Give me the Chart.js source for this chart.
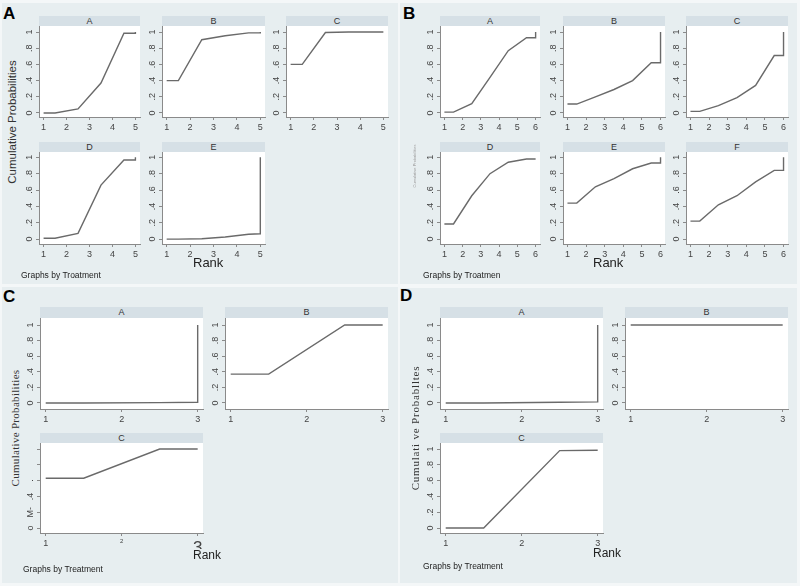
<!DOCTYPE html>
<html><head><meta charset="utf-8">
<script src="https://cdn.jsdelivr.net/npm/chart.js@4.4.1/dist/chart.umd.min.js"></script>
<style>
body{margin:0;width:800px;height:586px;background:#f4f7f8;position:relative;overflow:hidden;font-family:"Liberation Sans",Arial,sans-serif;}
.panel{position:absolute;background:#e7eef0;}
.plab{position:absolute;font-weight:bold;font-size:17px;color:#000;line-height:1;}
.strip{position:absolute;background:#d6e0e6;color:#333;font-size:9px;text-align:center;}
.cv{position:absolute;}
.txt{position:absolute;white-space:nowrap;line-height:1;}
.ytitle{position:absolute;white-space:nowrap;line-height:1;transform:translate(-50%,-50%) rotate(-90deg);}
</style></head><body>
<script>
// ---------- DATA ----------
// Panel A: 5 treatments, cumulative ranking probabilities (rank 1..5)
const rankStepsA = [1, 1.5, 2.5, 3.5, 4.5, 5, 5];
const cumA_A = [0, 0, 0.05, 0.37, 0.985, 0.985, 1];
const cumA_B = [0.4, 0.4, 0.905, 0.955, 0.99, 0.99, 1];
const cumA_C = [0.6, 0.6, 0.995, 1, 1, 1, 1];
const cumA_D = [0.01, 0.01, 0.07, 0.66, 0.967, 0.967, 1];
const cumA_E = [0, 0, 0.005, 0.025, 0.06, 0.065, 1];
// Panel B: 6 treatments (rank 1..6)
const rankStepsB = [1, 1.5, 2.5, 3.5, 4.5, 5.5, 6, 6];
const cumB_A = [0.01, 0.01, 0.115, 0.44, 0.77, 0.93, 0.93, 1];
const cumB_B = [0.11, 0.11, 0.2, 0.29, 0.4, 0.62, 0.62, 1];
const cumB_C = [0.02, 0.02, 0.09, 0.19, 0.34, 0.71, 0.71, 1];
const cumB_D = [0.185, 0.185, 0.53, 0.8, 0.94, 0.98, 0.98, 0.98];
const cumB_E = [0.44, 0.44, 0.64, 0.74, 0.86, 0.93, 0.93, 1];
const cumB_F = [0.22, 0.22, 0.42, 0.53, 0.7, 0.84, 0.84, 1];
// Panels C and D: 3 treatments (rank 1..3)
const rankStepsC = [1, 1.5, 2.5, 3, 3];
const cumC_A = [0, 0, 0.005, 0.01, 1];
const cumC_B = [0.37, 0.37, 1, 1, 1];
const cumC_C = [0.63, 0.63, 1, 1, 1];
const cumD_A = [0, 0, 0.01, 0.015, 1];
const cumD_B = [1, 1, 1, 1, 1];
const cumD_C = [0, 0, 0.98, 0.985, 0.985];
// Tick values and labels
const xTicks5 = [1, 2, 3, 4, 5];
const xTicks6 = [1, 2, 3, 4, 5, 6];
const xTicks3 = [1, 2, 3];
const xLabels5 = ['1', '2', '3', '4', '5'];
const xLabels6 = ['1', '2', '3', '4', '5', '6'];
const xLabels3 = ['1', '2', '3'];
const yTicks = [0, 0.2, 0.4, 0.6, 0.8, 1];
const yLabels = ['0', '.2', '.4', '.6', '.8', '1'];
const yLabelsCC = ['o', 'M-', '.4', '.', '', ''];
const treatmentsA = ['A', 'B', 'C', 'D', 'E'];
const treatmentsB = ['A', 'B', 'C', 'D', 'E', 'F'];
const treatmentsC = ['A', 'B', 'C'];

// ---------- LAYOUT ----------
const FONT = '"Liberation Sans", Arial, sans-serif';
const YW = 16, XH = 16, RP = 7;

function el(cls, css, text) {
  const d = document.createElement('div');
  d.className = cls;
  Object.assign(d.style, css);
  if (text !== undefined) d.textContent = text;
  document.body.appendChild(d);
  return d;
}

// panels backgrounds
el('panel', {left:'2px', top:'3px', width:'396px', height:'281px'});
el('panel', {left:'400px', top:'3px', width:'397px', height:'281px'});
el('panel', {left:'2px', top:'287px', width:'396px', height:'296px'});
el('panel', {left:'400px', top:'288px', width:'397px', height:'295px'});

el('plab', {left:'3px', top:'5px'}, 'A');
el('plab', {left:'403px', top:'5px'}, 'B');
el('plab', {left:'3px', top:'288px'}, 'C');
el('plab', {left:'400px', top:'287px'}, 'D');

const whiteBg = {
  id: 'whiteBg',
  beforeDraw(c) {
    const {ctx, chartArea: a} = c;
    ctx.save(); ctx.fillStyle = '#ffffff';
    ctx.fillRect(a.left, a.top, a.right - a.left, a.bottom - a.top);
    ctx.restore();
  }
};
const rotLabels = {
  id: 'rotLabels',
  afterDraw(c, args, opts) {
    const s = c.scales.y, ctx = c.ctx;
    ctx.save();
    ctx.fillStyle = '#444'; ctx.font = '9px ' + FONT;
    ctx.textAlign = 'center'; ctx.textBaseline = 'bottom';
    s.ticks.forEach((t, i) => {
      const lab = opts.labels[i];
      if (!lab) return;
      const py = s.getPixelForValue(t.value);
      ctx.save(); ctx.translate(s.right - 5, py); ctx.rotate(-Math.PI / 2);
      ctx.fillText(lab, 0, 0); ctx.restore();
    });
    ctx.restore();
  }
};

function makeSub(sp) {
  el('strip', {left: sp.L + 'px', top: sp.st + 'px', width: sp.W + 'px', height: (sp.T - sp.st) + 'px', lineHeight: (sp.T - sp.st) + 'px'}, sp.name);
  const cv = document.createElement('canvas');
  cv.className = 'cv';
  cv.width = sp.W + YW + RP; cv.height = sp.H + XH;
  cv.style.left = (sp.L - YW) + 'px'; cv.style.top = sp.T + 'px';
  document.body.appendChild(cv);
  const zeroPad = s => { s.paddingLeft = 0; s.paddingRight = 0; s.paddingTop = 0; s.paddingBottom = 0; };
  new Chart(cv, {
    type: 'line',
    data: {datasets: [{
      data: sp.x.map((x, i) => ({x: x, y: sp.y[i]})),
      borderColor: '#6a6a6a', borderWidth: 1.4, pointRadius: 0, tension: 0, fill: false
    }]},
    options: {
      responsive: false, animation: false, devicePixelRatio: 1, events: [],
      layout: {padding: {left: 0, right: RP, top: 0, bottom: 0}},
      plugins: {legend: {display: false}, tooltip: {enabled: false}, rotLabels: {labels: sp.yl}},
      scales: {
        x: {
          type: 'linear', min: sp.xmin, max: sp.xmax,
          afterBuildTicks: s => { s.ticks = sp.xt.map(v => ({value: v})); },
          afterFit: s => { s.height = XH; zeroPad(s); },
          ticks: {autoSkip: false, maxRotation: 0, minRotation: 0, padding: 2, color: '#444',
                  font: sp.xfont || {size: 9, family: FONT},
                  callback: (v, i) => sp.xl[i]},
          grid: {drawOnChartArea: false, drawTicks: true, tickLength: 3, color: '#8a8a8a', lineWidth: 1},
          border: {display: true, color: '#8a8a8a', width: 1}
        },
        y: {
          type: 'linear', min: sp.ymin, max: sp.ymax,
          afterBuildTicks: s => { s.ticks = yTicks.map(v => ({value: v})); },
          afterFit: s => { s.width = YW; zeroPad(s); },
          ticks: {display: false},
          grid: {drawOnChartArea: false, drawTicks: true, tickLength: 3, color: '#8a8a8a', lineWidth: 1},
          border: {display: true, color: '#8a8a8a', width: 1}
        }
      }
    },
    plugins: [whiteBg, rotLabels]
  });
}

// Panel A
const rA1 = {st: 16, T: 26, H: 91, ymin: -0.05, ymax: 1.075};
const rA2 = {st: 142, T: 152, H: 92, ymin: -0.06, ymax: 1.065};
const aX = {x: rankStepsA, xmin: 0.8, xmax: 5.2, xt: xTicks5, xl: xLabels5, yl: yLabels};
const colA = [{L: 39, W: 101}, {L: 162, W: 103}, {L: 286, W: 102}];
const seriesA = [cumA_A, cumA_B, cumA_C, cumA_D, cumA_E];
seriesA.forEach((s, i) => {
  makeSub(Object.assign({}, aX, i < 3 ? rA1 : rA2, colA[i % 3], {name: treatmentsA[i], y: s}));
});
// Panel B
const bX = {x: rankStepsB, xmin: 0.76, xmax: 6.24, xt: xTicks6, xl: xLabels6, yl: yLabels};
const colB = [{L: 440, W: 100}, {L: 563, W: 102}, {L: 686, W: 102}];
const seriesB = [cumB_A, cumB_B, cumB_C, cumB_D, cumB_E, cumB_F];
seriesB.forEach((s, i) => {
  makeSub(Object.assign({}, bX, i < 3 ? rA1 : rA2, colB[i % 3], {name: treatmentsB[i], y: s}));
});
// Panels C and D
const rC1 = {st: 307, T: 318, H: 91, ymin: -0.077, ymax: 1.09};
const rC2 = {st: 433, T: 443, H: 90, ymin: -0.063, ymax: 1.076};
const cX = {x: rankStepsC, xmin: 0.925, xmax: 3.07, xt: xTicks3, xl: xLabels3, yl: yLabels};
const colC = [{L: 40, W: 163}, {L: 225, W: 163}];
const colD = [{L: 440, W: 163}, {L: 625, W: 163}];
makeSub(Object.assign({}, cX, rC1, colC[0], {name: treatmentsC[0], y: cumC_A}));
makeSub(Object.assign({}, cX, rC1, colC[1], {name: treatmentsC[1], y: cumC_B}));
makeSub(Object.assign({}, cX, rC2, colC[0], {name: treatmentsC[2], y: cumC_C, yl: yLabelsCC,
  xfont: ctx => ctx.index === 2 ? {size: 17, family: FONT} : (ctx.index === 1 ? {size: 6, family: FONT} : {size: 9, family: FONT})}));
makeSub(Object.assign({}, cX, rC1, colD[0], {name: treatmentsC[0], y: cumD_A}));
makeSub(Object.assign({}, cX, rC1, colD[1], {name: treatmentsC[1], y: cumD_B}));
makeSub(Object.assign({}, cX, rC2, colD[0], {name: treatmentsC[2], y: cumD_C}));

// Axis titles and notes
el('ytitle', {left: '13px', top: '122px', fontSize: '11.5px', color: '#333'}, 'Cumulative Probabilities');
el('ytitle', {left: '415px', top: '166px', fontSize: '4px', color: '#999'}, 'Cumulative Probabilities');
el('ytitle', {left: '15px', top: '428px', fontSize: '11px', color: '#333', fontFamily: '"Liberation Serif", serif', letterSpacing: '0.3px'}, 'Cumulative Probabilities');
el('ytitle', {left: '415px', top: '428px', fontSize: '11px', color: '#333', fontFamily: '"Liberation Serif", serif', letterSpacing: '0.8px'}, 'Cumulati ve  Probablltes');

el('txt', {left: '193px', top: '256px', fontSize: '13px', color: '#222'}, 'Rank');
el('txt', {left: '593px', top: '256px', fontSize: '13px', color: '#222'}, 'Rank');
el('txt', {left: '193px', top: '549px', fontSize: '12px', color: '#222'}, 'Rank');
el('txt', {left: '593px', top: '547px', fontSize: '12px', color: '#222'}, 'Rank');

el('txt', {left: '21px', top: '271px', fontSize: '8.5px', color: '#222'}, 'Graphs by Troatment');
el('txt', {left: '423px', top: '271px', fontSize: '8.5px', color: '#222'}, 'Graphs by Troatmen');
el('txt', {left: '23px', top: '565px', fontSize: '8.5px', color: '#222'}, 'Graphs by Treatment');
el('txt', {left: '423px', top: '562px', fontSize: '8.5px', color: '#222'}, 'Graphs by Treatment');
</script>
</body></html>
